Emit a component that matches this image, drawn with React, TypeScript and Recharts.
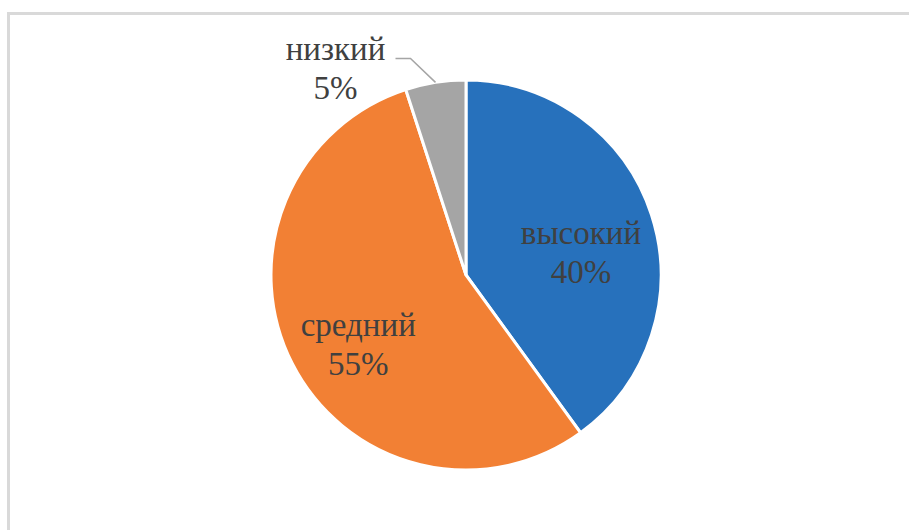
import React from 'react';
import { PieChart, Pie, Cell } from 'recharts';

const categories = ['высокий', 'средний', 'низкий'];
const values = [40, 55, 5];
const colors = ['#2771BC', '#F28034', '#A5A5A5'];

const data = categories.map((name, i) => ({ name, value: values[i] }));

const RAD = Math.PI / 180;
const SERIF = 'Liberation Serif';

// where a label goes: inside for big slices, outside (up-left, with a leader) for the small one
const labelAnchor = (props: any) => {
  const { cx, cy, midAngle, outerRadius, percent } = props;
  const cos = Math.cos(-midAngle * RAD);
  const sin = Math.sin(-midAngle * RAD);
  if (percent < 0.1) {
    const x0 = cx + outerRadius * cos;
    const y0 = cy + outerRadius * sin;
    const x1 = x0 - 25;
    const y1 = y0 - 24;
    const x2 = x1 - 15;
    return { outside: true, x0, y0, x1, y1, x2, tx: x2 - 60, ty: y1 + 11 };
  }
  const r = outerRadius * 0.62;
  return { outside: false, tx: cx + r * cos, ty: cy + r * sin + 15 };
};

const renderLabel = (props: any) => {
  const a = labelAnchor(props);
  const pct = `${Math.round(props.percent * 100)}%`;
  return (
    <text
      x={a.tx}
      y={a.ty - 9}
      textAnchor="middle"
      style={{ fontFamily: SERIF, fontSize: 33, fill: '#404040' }}
    >
      <tspan x={a.tx} y={a.ty - 9}>{props.name}</tspan>
      <tspan x={a.tx} y={a.ty + 30}>{pct}</tspan>
    </text>
  );
};

const renderLabelLine = (props: any) => {
  const a: any = labelAnchor(props);
  if (!a.outside) return <g />;
  return (
    <polyline
      points={`${a.x0},${a.y0} ${a.x1},${a.y1} ${a.x2},${a.y1}`}
      fill="none"
      stroke="#A5A5A5"
      strokeWidth={1.5}
    />
  );
};

export default function App() {
  return (
    <div style={{ position: 'fixed', left: 0, top: 0, width: 909, height: 530, overflow: 'hidden', background: '#fff' }}>
      <div
        style={{
          position: 'absolute',
          left: 7,
          top: 12,
          width: 1000,
          height: 700,
          border: '3px solid #D9D9D9',
          boxSizing: 'border-box',
        }}
      />
      <div style={{ position: 'absolute', left: 0, top: 0 }}>
        <PieChart width={909} height={530} margin={{ top: 0, right: 0, bottom: 0, left: 0 }}>
          <Pie
            data={data}
            dataKey="value"
            nameKey="name"
            cx={466}
            cy={275}
            outerRadius={195}
            startAngle={90}
            endAngle={-270}
            stroke="#FFFFFF"
            strokeWidth={3}
            label={renderLabel}
            labelLine={renderLabelLine}
            isAnimationActive={false}
          >
            {data.map((d, i) => (
              <Cell key={d.name} fill={colors[i]} />
            ))}
          </Pie>
        </PieChart>
      </div>
    </div>
  );
}
